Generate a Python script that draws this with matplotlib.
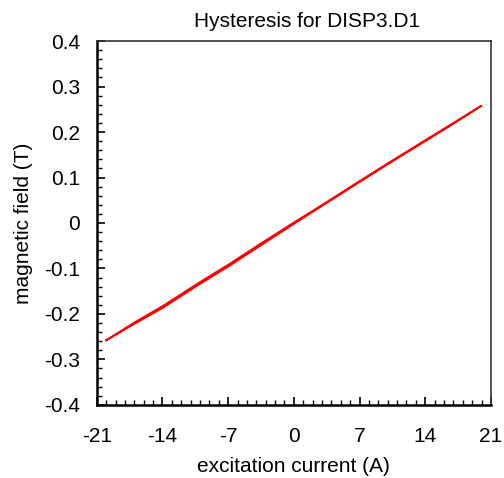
import matplotlib
matplotlib.use("Agg")
import matplotlib.pyplot as plt
from matplotlib.ticker import MultipleLocator

plt.rcParams['font.family'] = ['Liberation Sans', 'DejaVu Sans']

# excitation current sweep, up then back down (A)
current_up = [-20, -17, -14, -10, -7, -3.5, 0, 3.5, 7, 10, 14, 17, 20]
field_up = [-0.258, -0.222, -0.187, -0.134, -0.096, -0.049, -0.002, 0.044, 0.090, 0.129, 0.180, 0.218, 0.258]

current_down = [20, 17, 14, 10, 7, 3.5, 0, -3.5, -7, -10, -14, -17, -20]
field_down = [0.258, 0.220, 0.182, 0.131, 0.092, 0.046, 0.001, -0.045, -0.092, -0.130, -0.183, -0.219, -0.258]

x_ticks = [-21, -14, -7, 0, 7, 14, 21]
y_ticks = [-0.4, -0.3, -0.2, -0.1, 0, 0.1, 0.2, 0.3, 0.4]

fig = plt.figure(figsize=(5.04, 4.78), dpi=100)
ax = fig.add_axes([0.192, 0.153, 0.782, 0.761])

ax.plot(current_up + current_down, field_up + field_down, color='red', lw=1.3)

ax.set_xlim(-21, 21)
ax.set_ylim(-0.4, 0.4)
ax.set_xticks(x_ticks)
ax.set_xticklabels([str(t) for t in x_ticks])
ax.set_yticks(y_ticks)
ax.set_yticklabels(['-0.4', '-0.3', '-0.2', '-0.1', '0', '0.1', '0.2', '0.3', '0.4'])
ax.xaxis.set_minor_locator(MultipleLocator(1))
ax.yaxis.set_minor_locator(MultipleLocator(0.02))
ax.tick_params(which='major', direction='in', length=6, width=1.2, labelsize=15)
ax.tick_params(axis='x', which='major', pad=16)
ax.tick_params(axis='y', which='major', pad=12)
ax.tick_params(which='minor', direction='in', length=3.5, width=1.0)
ax.tick_params(top=False, right=False, which='both')

for side in ['left', 'bottom']:
    ax.spines[side].set_linewidth(1.8)
    ax.spines[side].set_color('black')
for side in ['top', 'right']:
    ax.spines[side].set_linewidth(1.2)
    ax.spines[side].set_color('#333333')

ax.set_title('Hysteresis for DISP3.D1', fontsize=15, x=0.533, pad=10)
ax.set_xlabel('excitation current (A)', fontsize=15, labelpad=8)
ax.set_ylabel('magnetic field (T)', fontsize=15, labelpad=8)

fig.savefig('out.png', dpi=100)
